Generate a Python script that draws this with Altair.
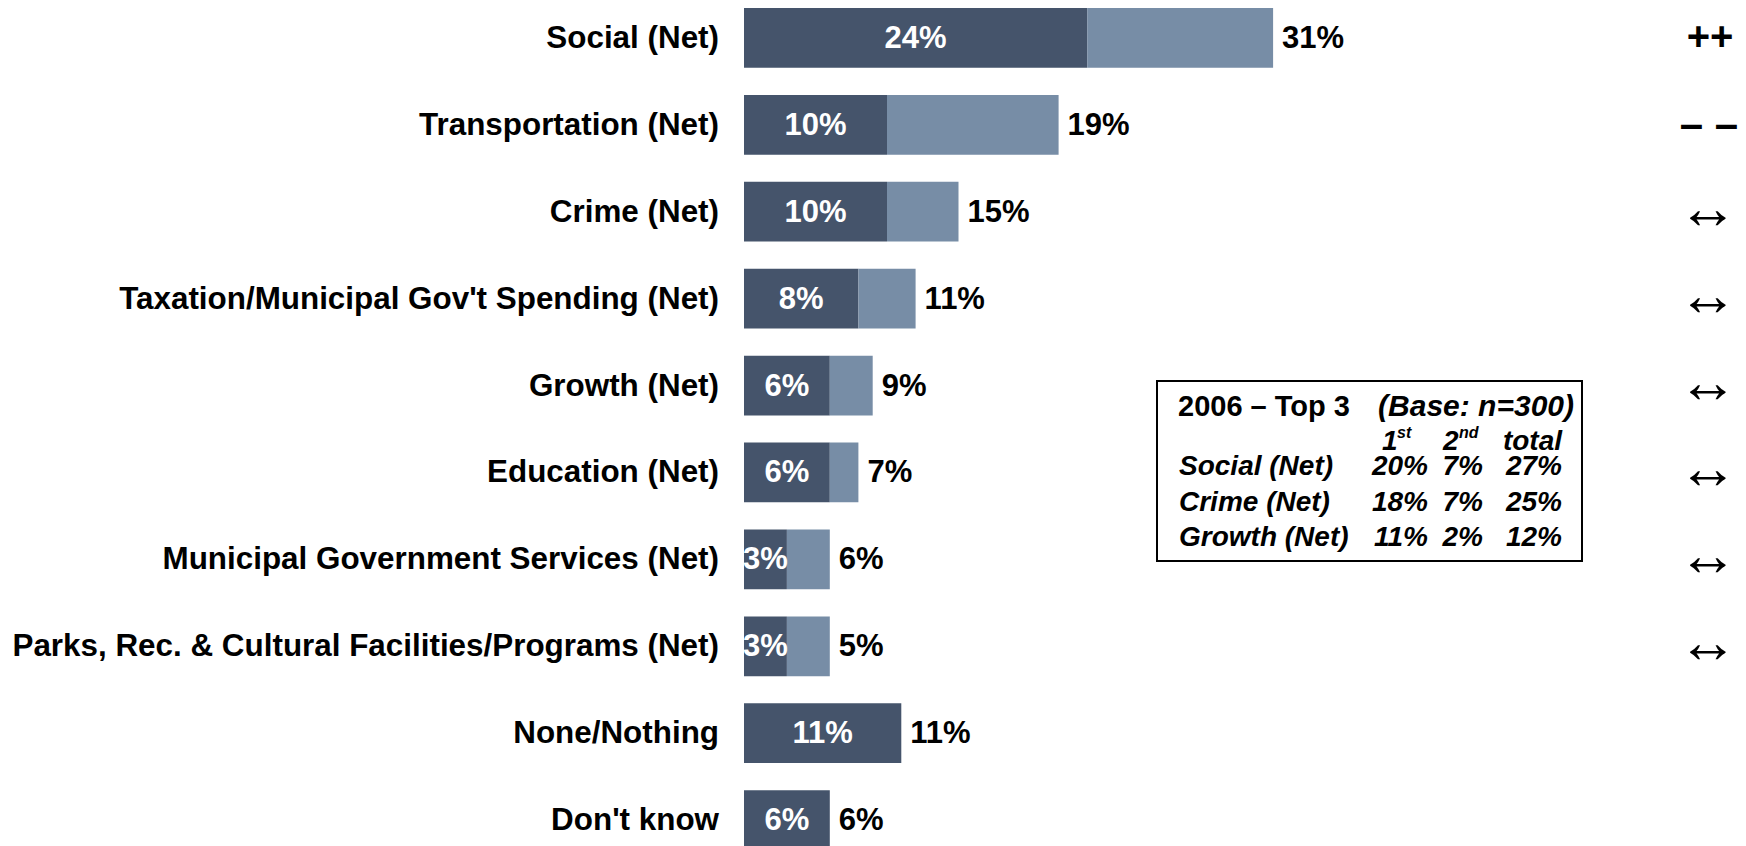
import altair as alt
import pandas as pd

# ---------------- data ----------------
categories = [
    "Social (Net)",
    "Transportation (Net)",
    "Crime (Net)",
    "Taxation/Municipal Gov't Spending (Net)",
    "Growth (Net)",
    "Education (Net)",
    "Municipal Government Services (Net)",
    "Parks, Rec. & Cultural Facilities/Programs (Net)",
    "None/Nothing",
    "Don't know",
]
first_mention = [24, 10, 10, 8, 6, 6, 3, 3, 11, 6]
second_mention = [13, 12, 5, 4, 3, 2, 3, 3, 0, 0]
total_mention = [31, 19, 15, 11, 9, 7, 6, 5, 11, 6]
trend = ["++", "\u2013 \u2013", "\u2194", "\u2194", "\u2194", "\u2194", "\u2194", "\u2194", "", ""]

box_title = "2006 \u2013 Top 3"
box_base = "(Base: n=300)"
box_rows = ["Social (Net)", "Crime (Net)", "Growth (Net)"]
box_first = ["20%", "18%", "11%"]
box_second = ["7%", "7%", "2%"]
box_total = ["27%", "25%", "12%"]

# ---------------- styling / layout ----------------
FONT = "Liberation Sans, Arial, Helvetica, sans-serif"
DARK = "#45546B"
LIGHT = "#778DA6"
X0, Y0 = 744, 8          # page position of plot origin
W, H = 994, 842
PX_PER_PCT = 14.3

df = pd.DataFrame({
    "cat": categories,
    "first": first_mention,
    "second": second_mention,
    "total": total_mention,
    "trend": trend,
})
df["end"] = df["first"] + df["second"]
df["mid"] = df["first"] / 2
df["first_label"] = df["first"].astype(str) + "%"
df["total_label"] = df["total"].astype(str) + "%"

xscale = alt.Scale(domain=[0, W / PX_PER_PCT], nice=False, zero=True)
yscale = alt.Scale(domain=categories, paddingInner=0.313, paddingOuter=0)

base = alt.Chart(df)
Y = alt.Y("cat:N", scale=yscale, sort=categories, axis=None)

dark = base.mark_bar(color=DARK).encode(
    x=alt.X("first:Q", scale=xscale, axis=None),
    y=Y,
)
light = base.mark_bar(color=LIGHT).encode(
    x=alt.X("first:Q", scale=xscale, axis=None),
    x2="end:Q",
    y=Y,
)
cat_labels = base.mark_text(
    font=FONT, fontSize=31.4, fontWeight="bold", color="black",
    align="right", baseline="middle", dy=1,
).encode(
    x=alt.value(-25),
    y=Y,
    text="cat:N",
)
inner = base.mark_text(
    font=FONT, fontSize=31, fontWeight="bold", color="white",
    align="center", baseline="middle", dy=1,
).encode(
    x=alt.X("mid:Q", scale=xscale, axis=None),
    y=Y,
    text="first_label:N",
)
outer = base.mark_text(
    font=FONT, fontSize=31, fontWeight="bold", color="black",
    align="left", baseline="middle", dx=9, dy=1,
).encode(
    x=alt.X("end:Q", scale=xscale, axis=None),
    y=Y,
    text="total_label:N",
)

def trend_layer(sym, size, weight, xpix, dy=0, font=FONT):
    return base.transform_filter(alt.datum.trend == sym).mark_text(
        font=font, fontSize=size, fontWeight=weight, color="black",
        align="center", baseline="middle", dy=dy,
    ).encode(
        x=alt.value(xpix),
        y=Y,
        text="trend:N",
    )

plus = trend_layer("++", 40, "bold", 1710 - X0)
minus = trend_layer("\u2013 \u2013", 42, "bold", 1709 - X0)
arrows = trend_layer("\u2194", 60, "normal", 1708 - X0, dy=-2)

# ---------------- 2006 box ----------------
one = pd.DataFrame({"k": [0]})
box = alt.Chart(one).mark_rect(
    fill="white", stroke="black", strokeWidth=2,
).encode(
    x=alt.value(1157 - X0), x2=alt.value(1582 - X0),
    y=alt.value(381 - Y0), y2=alt.value(561 - Y0),
)

def txt(t, xpage, ypage, size, style, align):
    return alt.Chart(one).mark_text(
        font=FONT, fontSize=size, fontWeight="bold", fontStyle=style,
        color="black", align=align, baseline="alphabetic",
    ).encode(
        x=alt.value(xpage - X0), y=alt.value(ypage - Y0), text=alt.value(t),
    )

row_base = [475, 511, 546]
ann = [
    txt(box_title, 1178, 416, 29, "normal", "left"),
    txt(box_base, 1574, 416, 30, "italic", "right"),
    txt("1", 1382, 450, 28, "italic", "left"),
    txt("st", 1397, 438, 16, "italic", "left"),
    txt("2", 1443, 450, 28, "italic", "left"),
    txt("nd", 1459, 438, 16, "italic", "left"),
    txt("total", 1562, 450, 28, "italic", "right"),
]
for name, a, b, c, yb in zip(box_rows, box_first, box_second, box_total, row_base):
    ann.append(txt(name, 1179, yb, 28, "italic", "left"))
    ann.append(txt(a, 1428, yb, 28, "italic", "right"))
    ann.append(txt(b, 1483, yb, 28, "italic", "right"))
    ann.append(txt(c, 1562, yb, 28, "italic", "right"))

chart = alt.layer(
    dark, light, cat_labels, inner, outer, plus, minus, arrows, box, *ann,
).properties(
    width=W, height=H,
    autosize=alt.AutoSizeParams(type="none"),
    padding={"left": X0 - 8, "top": 0, "right": 0, "bottom": 0},
).configure_view(stroke="transparent", strokeWidth=0)

chart.save("out.html", embed_options={"renderer": "svg", "actions": False})
